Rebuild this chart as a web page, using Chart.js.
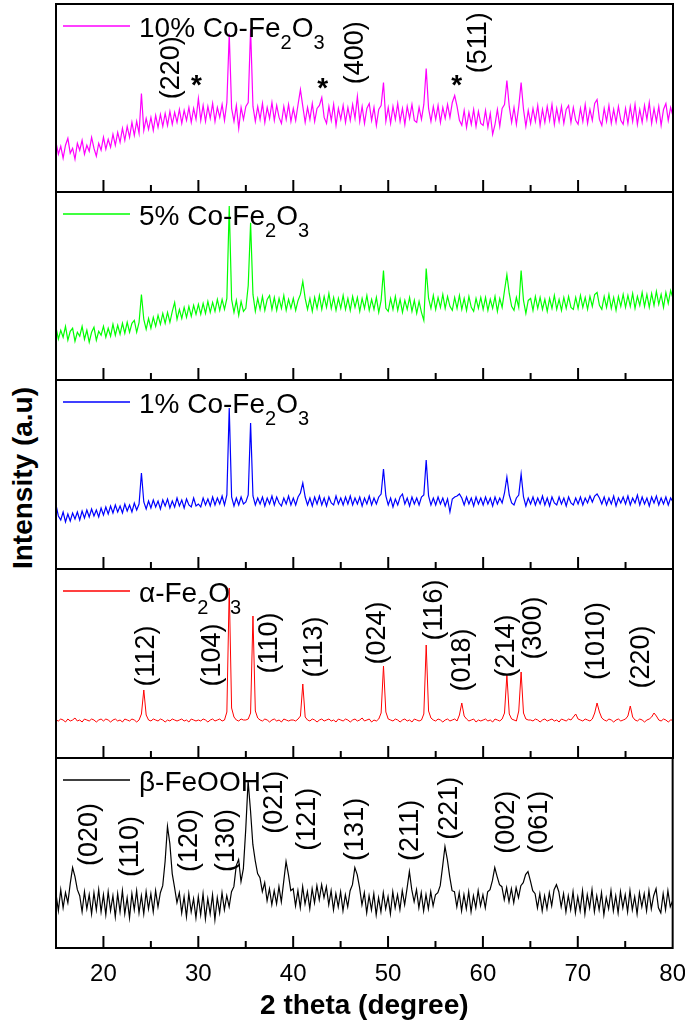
<!DOCTYPE html>
<html lang="en">
<head>
<meta charset="UTF-8">
<title>XRD patterns</title>
<script src="https://cdn.jsdelivr.net/npm/chart.js"></script>
<style>
  html, body { margin: 0; padding: 0; background: #fff; overflow: hidden; }
  #wrap { position: relative; width: 685px; height: 1024px; overflow: hidden; background: #fff; }
  #wrap canvas { position: absolute; left: 0; }
  #ytitle {
    position: absolute; left: 23px; top: 478px;
    transform: translate(-50%, -50%) rotate(-90deg);
    font: bold 28px 'Liberation Sans', Arial, sans-serif;
    line-height: 32px; white-space: nowrap; color: #000;
  }
</style>
</head>
<body>
<div id="wrap">
  <div id="ytitle">Intensity (a.u)</div>
</div>
<script>
// scan: 2 theta from 15 to 80 deg, 0.25 deg step (261 points per pattern)
const scanStart = 15;
const scanStep = 0.25;

// intensities (a.u.), one row per 5 degrees
const co10 = [
  50,38,46,34,47,54,39,44,33,49,42,52,38,47,41,55,44,36,49,42,      // 15
  55,43,53,45,58,47,60,50,64,52,66,55,70,57,71,59,99,62,74,63,      // 20
  75,62,77,65,78,66,79,67,81,68,80,70,83,69,82,72,85,70,84,73,      // 25
  94,72,87,71,86,74,89,71,85,75,88,72,90,159,84,71,87,64,85,73,     // 30
  86,90,164,86,71,86,73,89,70,85,74,90,72,87,75,69,86,73,88,71,     // 35
  84,72,88,103,86,70,85,73,89,71,84,87,95,75,69,86,72,88,67,84,     // 40
  73,87,70,85,72,88,74,96,71,86,69,84,89,72,85,67,83,87,110,71,     // 45
  85,69,86,73,89,71,84,68,86,74,88,72,70,85,73,88,124,84,71,86,     // 50
  73,87,70,85,74,88,75,90,97,86,72,67,82,65,80,68,83,66,81,69,      // 55
  67,82,65,79,58,68,83,66,84,88,112,86,70,85,68,86,110,83,66,82,    // 60
  69,84,71,87,67,83,70,86,72,88,68,84,71,86,69,83,87,70,85,72,      // 65
  68,84,71,88,69,83,72,89,93,73,67,84,71,87,69,83,70,86,72,68,      // 70
  84,69,86,71,88,68,83,70,87,73,90,69,84,71,86,67,83,89,72,85,      // 75
  76
];
const co5 = [
  53,41,50,43,54,40,49,52,39,48,44,54,41,50,38,48,53,40,49,45,
  54,43,52,44,56,45,55,46,57,47,58,48,57,60,48,58,86,61,51,62,
  52,63,54,65,56,67,57,68,58,69,78,61,71,62,73,63,74,64,75,66,
  76,66,77,67,79,68,78,69,81,70,81,71,82,175,81,68,80,65,79,69,
  72,95,158,86,69,82,71,84,70,81,85,71,83,70,82,72,85,70,81,72,
  82,70,80,86,99,82,71,82,69,83,72,85,71,84,73,87,72,83,70,82,
  72,85,71,82,70,84,73,83,69,82,72,85,70,81,71,83,68,80,110,72,
  69,82,71,84,70,81,68,80,71,83,69,80,67,79,68,60,112,82,72,85,
  71,83,73,86,72,84,74,70,83,72,85,71,82,70,84,73,69,82,72,83,
  71,83,70,81,72,84,69,82,73,90,106,87,74,70,83,73,110,80,67,80,
  82,70,84,72,83,71,81,69,82,72,85,71,81,70,83,72,84,73,71,83,
  72,85,73,83,71,84,74,86,88,75,71,84,73,86,72,83,70,84,74,86,
  73,85,74,87,72,84,75,88,74,86,73,87,75,89,76,86,73,88,77,90,
  82
];
const co1 = [
  64,53,49,57,47,55,48,56,50,57,49,58,51,59,52,60,53,59,52,61,
  54,62,55,63,56,64,57,63,56,65,58,64,57,66,59,65,96,67,60,68,
  61,69,62,68,60,69,63,70,61,68,62,71,63,69,61,70,64,62,71,63,
  65,62,71,64,70,63,72,64,71,65,73,64,74,161,72,63,71,64,72,65,
  67,74,146,73,64,71,65,72,63,71,65,73,64,72,66,63,71,65,73,64,
  71,64,72,76,86,72,64,71,63,72,65,73,64,71,63,72,66,64,73,65,
  71,64,72,65,73,64,71,65,72,63,71,65,73,64,71,65,72,75,100,73,
  64,71,62,70,64,72,75,65,71,63,72,65,71,64,72,74,109,73,64,71,
  64,72,65,71,63,70,57,70,72,73,75,71,64,72,65,71,63,72,65,71,
  64,72,65,71,63,72,65,71,66,76,92,74,66,64,71,74,95,72,63,71,
  65,72,64,71,65,73,64,71,63,72,66,64,72,65,71,63,72,66,64,71,
  65,72,64,71,66,73,67,73,75,71,65,72,64,71,65,73,63,71,66,72,
  65,73,64,71,66,74,64,72,65,71,63,72,66,73,64,71,65,72,64,71,
  67
];
const alphaFe2O3 = [
  38,37,39,38,36,39,37,38,40,37,38,36,39,38,37,39,38,36,38,39,
  37,39,38,36,38,39,37,38,36,39,38,37,39,38,36,38,44,68,43,38,
  37,39,38,37,39,38,36,38,37,39,38,37,38,39,37,38,36,39,38,37,
  38,37,39,38,36,38,39,37,38,39,37,38,46,170,50,41,38,37,39,38,
  38,39,45,142,47,40,38,37,39,38,36,38,39,37,38,36,39,38,37,38,
  38,37,39,42,74,41,38,37,39,38,36,38,39,37,38,39,37,38,36,39,
  38,37,39,38,36,38,39,37,38,40,37,38,39,36,38,37,39,45,92,46,
  39,38,37,39,38,36,38,39,37,38,36,39,38,37,38,44,113,47,40,38,
  37,39,38,36,38,39,37,38,39,37,43,55,42,39,37,38,39,36,38,37,
  38,39,37,38,36,39,38,37,39,45,83,44,39,38,37,47,86,45,39,38,
  38,37,39,38,36,38,39,37,38,39,37,38,36,39,38,37,39,38,41,44,
  39,38,37,39,38,37,39,45,55,46,40,38,37,39,38,36,38,39,37,38,
  39,42,52,41,38,37,39,38,36,38,39,41,45,42,38,37,39,38,36,38,
  38
];
const feooh = [
  54,37,58,40,55,45,64,80,71,58,52,36,56,39,53,34,55,38,58,36,
  53,33,56,37,52,31,54,36,57,34,50,30,54,38,57,35,52,34,56,39,
  54,36,57,41,55,62,86,121,104,74,60,45,55,35,51,31,54,36,49,30,
  51,33,54,29,49,34,53,28,50,35,55,38,52,41,56,61,82,88,66,79,
  118,166,137,103,87,74,70,56,65,47,59,43,57,44,61,46,66,86,73,57,
  59,42,57,40,61,44,56,39,59,45,62,48,63,50,61,43,57,38,54,41,
  56,37,53,41,57,63,80,73,60,43,55,35,52,38,54,33,50,36,55,39,
  51,34,56,40,53,38,57,43,59,76,58,46,58,40,55,37,53,39,56,42,
  53,55,62,81,101,88,71,57,56,41,55,37,53,39,56,36,52,40,57,42,
  53,40,56,58,67,80,71,63,61,48,60,46,59,45,60,50,62,65,73,76,
  67,57,54,40,54,37,52,39,55,42,58,63,56,41,54,36,52,38,56,35,
  51,37,57,34,53,40,58,36,52,38,55,33,50,39,57,37,52,35,56,40,
  53,36,57,38,51,34,55,41,54,37,57,39,52,59,40,35,54,38,57,41,
  47
];

// reflection labels: text, 2 theta, height of label centre (a.u.)
const co10Hkl = ['(220)', '(400)', '(511)'];
const co10HklPos = [27.2, 46.6, 59.5];
const co10HklY = [125, 140, 150];
const spinelStarPos = [29.8, 43.1, 57.2];
const spinelStarY = [115, 112, 115];

const alphaHkl = ['(112)', '(104)', '(110)', '(113)', '(024)', '(116)', '(018)', '(214)', '(300)', '(1010)', '(220)'];
const alphaHklPos = [24.5, 31.5, 37.5, 42.2, 48.9, 54.9, 57.8, 62.5, 65.3, 71.9, 76.7];
const alphaHklY = [102, 103, 115, 111, 125, 148, 98, 112, 130, 117, 101];

const feoohHkl = ['(020)', '(110)', '(120)', '(130)', '(021)', '(121)', '(131)', '(211)', '(221)', '(002)', '(061)'];
const feoohHklPos = [18.5, 22.9, 29.1, 33.0, 38.0, 41.5, 46.6, 52.35, 56.5, 62.5, 66.0];
const feoohHklY = [113, 101, 107, 107, 145, 128, 118, 117, 139, 125, 125];

const FONT = "'Liberation Sans', Arial, sans-serif";
Chart.defaults.font.family = FONT;
Chart.defaults.color = '#000';

const panels = [
  { label: '10% Co-Fe₂O₃', data: co10, color: '#ff00ff', width: 1.2, hkl: co10Hkl, hklPos: co10HklPos, hklY: co10HklY, stars: true },
  { label: '5% Co-Fe₂O₃', data: co5, color: '#00ff00', width: 1.2 },
  { label: '1% Co-Fe₂O₃', data: co1, color: '#0000ff', width: 1.2 },
  { label: 'α-Fe₂O₃', data: alphaFe2O3, color: '#ff0000', width: 1, hkl: alphaHkl, hklPos: alphaHklPos, hklY: alphaHklY },
  { label: 'β-FeOOH', data: feooh, color: '#000000', width: 1.2, hkl: feoohHkl, hklPos: feoohHklPos, hklY: feoohHklY }
];

// panel frame tops / heights on the page
const TOP = [4, 192, 380, 569, 758];
const H = [188, 188, 189, 189, 190];

function toPoints(arr) {
  return arr.map((v, i) => ({ x: scanStart + i * scanStep, y: v }));
}

// legend text with subscript digits
function drawLabel(ctx, text, x, y) {
  const subs = '₀₁₂₃₄₅₆₇₈₉';
  let run = '';
  const flush = () => {
    if (!run) return;
    ctx.font = '28px ' + FONT;
    ctx.fillText(run, x, y);
    x += ctx.measureText(run).width;
    run = '';
  };
  for (const ch of text) {
    const k = subs.indexOf(ch);
    if (k >= 0) {
      flush();
      ctx.font = '20px ' + FONT;
      ctx.fillText(String(k), x, y + 12);
      x += ctx.measureText(String(k)).width;
    } else {
      run += ch;
    }
  }
  flush();
}

function panelPlugin(p) {
  return {
    id: 'panel',
    afterDatasetsDraw(chart) {
      const { ctx, chartArea: a, scales: { x, y } } = chart;
      ctx.save();
      ctx.strokeStyle = '#000';
      ctx.lineWidth = 2;
      ctx.strokeRect(a.left, a.top, a.right - a.left, a.bottom - a.top);
      // inward ticks along the bottom edge
      for (let v = 20; v < 80; v += 5) {
        const px = x.getPixelForValue(v);
        const len = v % 10 === 0 ? 12 : 7;
        ctx.beginPath();
        ctx.moveTo(px, a.bottom);
        ctx.lineTo(px, a.bottom - len);
        ctx.stroke();
      }
      // legend
      ctx.strokeStyle = p.color;
      ctx.lineWidth = 1.5;
      ctx.beginPath();
      ctx.moveTo(a.left + 7, a.top + 22);
      ctx.lineTo(a.left + 74, a.top + 22);
      ctx.stroke();
      ctx.fillStyle = '#000';
      ctx.textAlign = 'left';
      ctx.textBaseline = 'alphabetic';
      drawLabel(ctx, p.label, a.left + 83, a.top + 33);
      // reflection labels
      if (p.hkl) {
        ctx.font = '27px ' + FONT;
        ctx.textAlign = 'center';
        ctx.textBaseline = 'middle';
        p.hkl.forEach((t, k) => {
          ctx.save();
          ctx.translate(x.getPixelForValue(p.hklPos[k]), y.getPixelForValue(p.hklY[k]));
          ctx.rotate(-Math.PI / 2);
          ctx.fillText(t, 0, 0);
          ctx.restore();
        });
      }
      if (p.stars) {
        ctx.font = 'bold 28px ' + FONT;
        ctx.textAlign = 'center';
        ctx.textBaseline = 'alphabetic';
        spinelStarPos.forEach((v, k) => {
          ctx.fillText('*', x.getPixelForValue(v), y.getPixelForValue(spinelStarY[k]) + 16);
        });
      }
      ctx.restore();
    }
  };
}

const wrap = document.getElementById('wrap');
panels.forEach((p, i) => {
  const last = i === panels.length - 1;
  const cv = document.createElement('canvas');
  const cvTop = TOP[i] - 2;
  cv.width = 690;
  cv.height = last ? 1024 - cvTop : H[i] + 4;
  cv.style.top = cvTop + 'px';
  wrap.appendChild(cv);

  const xScale = {
    type: 'linear', min: 15, max: 80, display: last,
    grid: { display: false },
    border: { display: false },
    ticks: { stepSize: 10, includeBounds: false, padding: 4, font: { size: 24 }, color: '#000' },
    afterBuildTicks: s => { s.ticks = s.ticks.filter(t => t.value % 10 === 0); },
    title: {
      display: true, text: '2 theta (degree)', color: '#000',
      font: { size: 28, weight: 'bold' },
      padding: { top: 0, bottom: 1 }
    }
  };
  if (last) xScale.afterFit = s => { s.height = 76; };

  new Chart(cv, {
    type: 'line',
    data: {
      datasets: [{
        label: p.label,
        data: toPoints(p.data),
        borderColor: p.color,
        borderWidth: p.width,
        pointRadius: 0,
        fill: false,
        tension: 0
      }]
    },
    options: {
      responsive: false,
      animation: false,
      devicePixelRatio: 1,
      events: [],
      layout: { padding: { left: 56, right: 17, top: 2, bottom: last ? 0 : 2 } },
      plugins: { legend: { display: false }, tooltip: { enabled: false } },
      scales: {
        x: xScale,
        y: { min: 0, max: 189, display: false }
      }
    },
    plugins: [panelPlugin(p)]
  });
});
</script>
</body>
</html>
